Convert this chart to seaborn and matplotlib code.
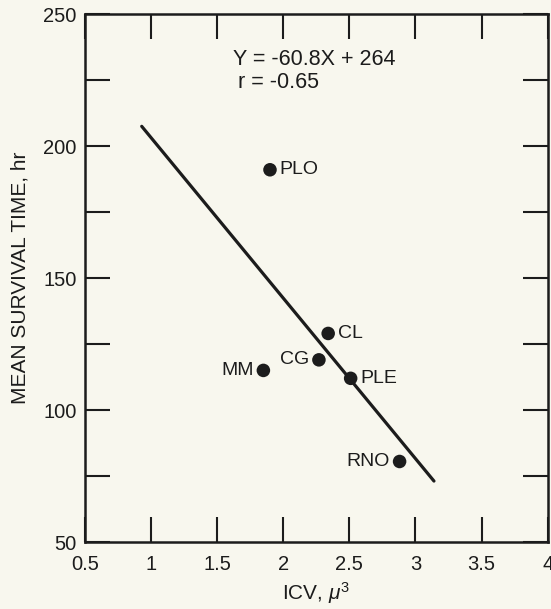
import matplotlib
matplotlib.use('Agg')
import matplotlib.pyplot as plt
import seaborn as sns
import pandas as pd

# 数据
species = ['PLO', 'CL', 'CG', 'MM', 'PLE', 'RNO']
icv = [1.90, 2.34, 2.27, 1.85, 2.51, 2.88]
survival = [191, 129, 119, 115, 112, 80.5]
label_side = ['right', 'right', 'left', 'left', 'right', 'left']

# 回归线 Y = -60.8X + 264
slope = -60.8
intercept = 264
line_x = [0.93, 3.14]

x_ticks = [0.5, 1, 1.5, 2, 2.5, 3, 3.5, 4]
x_ticklabels = ['0.5', '1', '1.5', '2', '2.5', '3', '3.5', '4']
y_ticks = [50, 75, 100, 125, 150, 175, 200, 225, 250]
y_ticklabels = ['50', '', '100', '', '150', '', '200', '', '250']

bg = '#f8f7ee'
ink = '#1c1c1c'

sns.set_theme(style='ticks')
plt.rcParams['font.family'] = ['Liberation Sans', 'DejaVu Sans']
plt.rcParams['mathtext.fontset'] = 'custom'
plt.rcParams['mathtext.it'] = 'Liberation Sans:italic'
plt.rcParams['mathtext.rm'] = 'Liberation Sans'

fig = plt.figure(figsize=(5.51, 6.09), dpi=100, facecolor=bg)
ax = fig.add_axes([0.154, 0.110, 0.840, 0.867])
ax.set_facecolor(bg)

df = pd.DataFrame({'icv': icv, 'survival': survival, 'name': species})
line_df = pd.DataFrame({'x': line_x, 'y': [slope * v + intercept for v in line_x]})

sns.lineplot(data=line_df, x='x', y='y', ax=ax, color=ink, linewidth=2.3)
sns.scatterplot(data=df, x='icv', y='survival', ax=ax, color=ink, s=95,
                edgecolor='none', zorder=3)

for name, xv, yv, side in zip(species, icv, survival, label_side):
    if side == 'right':
        ax.annotate(name, (xv, yv), xytext=(7, 0), textcoords='offset points',
                    ha='left', va='center', fontsize=14, color=ink)
    else:
        ax.annotate(name, (xv, yv), xytext=(-7, 0), textcoords='offset points',
                    ha='right', va='center', fontsize=14, color=ink)

ax.text(1.617, 232.6, 'Y = -60.8X + 264', fontsize=15.5, color=ink, va='center')
ax.text(1.655, 223.9, 'r = -0.65', fontsize=15.5, color=ink, va='center')

ax.set_xlim(0.5, 4)
ax.set_ylim(50, 250)
ax.set_xticks(x_ticks)
ax.set_xticklabels(x_ticklabels)
ax.set_yticks(y_ticks)
ax.set_yticklabels(y_ticklabels)
ax.tick_params(direction='in', length=18, width=1.5, colors=ink, labelsize=14.5,
               top=True, right=True, pad=6)
ax.tick_params(axis='x', pad=9)
for s in ax.spines.values():
    s.set_linewidth(1.8)
    s.set_color(ink)

ax.set_xlabel('ICV, $\\mu^3$', fontsize=15, color=ink, labelpad=5)
ax.set_ylabel('MEAN SURVIVAL TIME, hr', fontsize=15, color=ink, labelpad=10)

fig.savefig('out.png', dpi=100, facecolor=bg)
